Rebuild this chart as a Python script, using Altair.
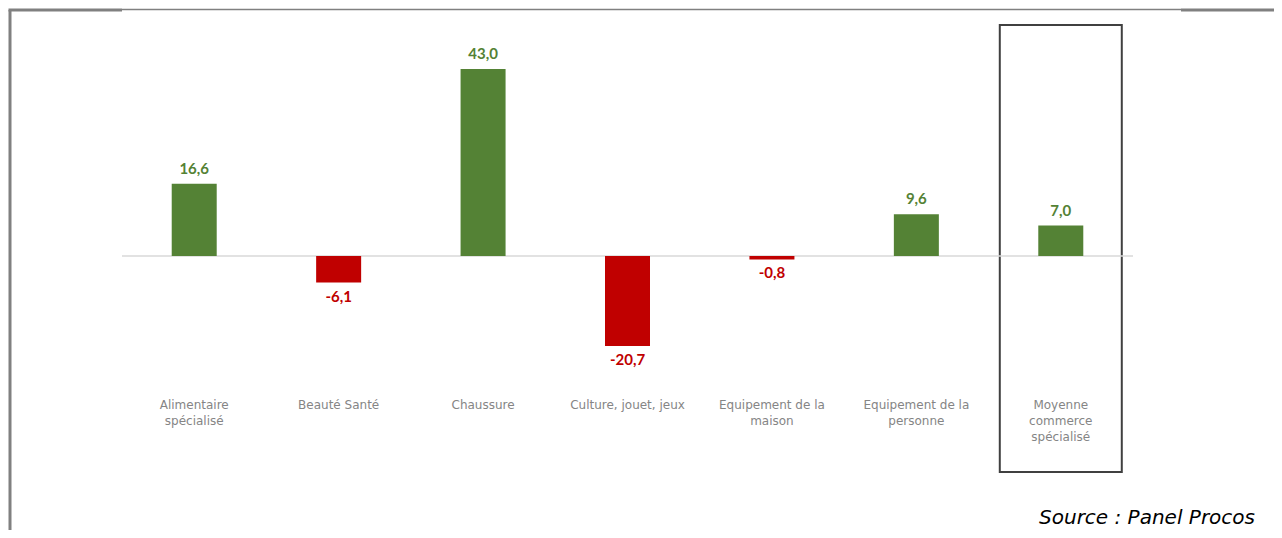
import altair as alt
import pandas as pd

categories = [
    "Alimentaire\nspécialisé",
    "Beauté Santé",
    "Chaussure",
    "Culture, jouet, jeux",
    "Equipement de la\nmaison",
    "Equipement de la\npersonne",
    "Moyenne\ncommerce\nspécialisé",
]
values = [16.6, -6.1, 43.0, -20.7, -0.8, 9.6, 7.0]
highlight = "Moyenne\ncommerce\nspécialisé"
source_text = "Source : Panel Procos"

df = pd.DataFrame({
    "cat": categories,
    "value": values,
    "label": [f"{v:.1f}".replace(".", ",") for v in values],
    "sign": ["pos" if v >= 0 else "neg" for v in values],
})

GREEN = "#548235"
RED = "#C00000"

x = alt.X("cat:N", sort=categories, axis=None,
          scale=alt.Scale(paddingInner=0, paddingOuter=0))
y_scale = alt.Scale(domain=[-30, 50], nice=False, zero=False)
color = alt.Color("sign:N", scale=alt.Scale(domain=["pos", "neg"], range=[GREEN, RED]), legend=None)

base = alt.Chart(df)

zero = alt.Chart(pd.DataFrame({"z": [0]})).mark_rule(color="#d9d9d9", strokeWidth=1.5).encode(
    y=alt.Y("z:Q", scale=y_scale, axis=None)
)

bars = base.mark_bar(size=45).encode(
    x=x,
    y=alt.Y("value:Q", scale=y_scale, axis=None),
    y2=alt.datum(0),
    color=color,
)

pos_labels = base.transform_filter("datum.value >= 0").mark_text(
    font="Lato", fontWeight="bold", fontSize=15, baseline="bottom", dy=-7
).encode(x=x, y=alt.Y("value:Q", scale=y_scale), text="label:N", color=color)

neg_labels = base.transform_filter("datum.value < 0").mark_text(
    font="Lato", fontWeight="bold", fontSize=15, baseline="top", dy=7
).encode(x=x, y=alt.Y("value:Q", scale=y_scale), text="label:N", color=color)

cat_labels = base.mark_text(
    font="DejaVu Sans", fontSize=12, color="#858585", baseline="top",
    lineBreak="\n", lineHeight=16, align="center"
).encode(x=x, y=alt.value(361.5), text="cat:N")

box = base.transform_filter(alt.datum.cat == highlight).mark_bar(
    size=122, fill="white", fillOpacity=0, stroke="#404040", strokeWidth=2
).encode(x=x, y=alt.value(-13.5), y2=alt.value(433.5))

one = pd.DataFrame({"a": [0]})
frame_left = alt.Chart(one).mark_rule(color="#808080", strokeWidth=3).encode(
    x=alt.value(-112), y=alt.value(-28.5), y2=alt.value(510))
frame_top_a = alt.Chart(one).mark_rule(color="#808080", strokeWidth=3).encode(
    x=alt.value(-113.5), x2=alt.value(0), y=alt.value(-28.5))
frame_top_b = alt.Chart(one).mark_rule(color="#808080", strokeWidth=1.5).encode(
    x=alt.value(0), x2=alt.value(1059), y=alt.value(-29))
frame_top_c = alt.Chart(one).mark_rule(color="#808080", strokeWidth=3).encode(
    x=alt.value(1059), x2=alt.value(1160), y=alt.value(-28.5))

source = alt.Chart(pd.DataFrame({"t": [source_text]})).mark_text(
    font="DejaVu Sans", fontStyle="italic", fontSize=20, color="#000000",
    align="right", baseline="alphabetic"
).encode(x=alt.value(1133), y=alt.value(485.5), text="t:N")

chart = alt.layer(
    box, zero, bars, pos_labels, neg_labels, cat_labels,
    frame_left, frame_top_a, frame_top_b, frame_top_c, source
).properties(
    width=1011, height=348,
    background="white",
    autosize=alt.AutoSizeParams(type="none"),
    padding={"left": 114, "top": 30.5, "right": 141, "bottom": 143},
).configure_view(stroke=None, strokeWidth=0)

chart.save("out.html", embed_options={"renderer": "svg", "actions": False})
